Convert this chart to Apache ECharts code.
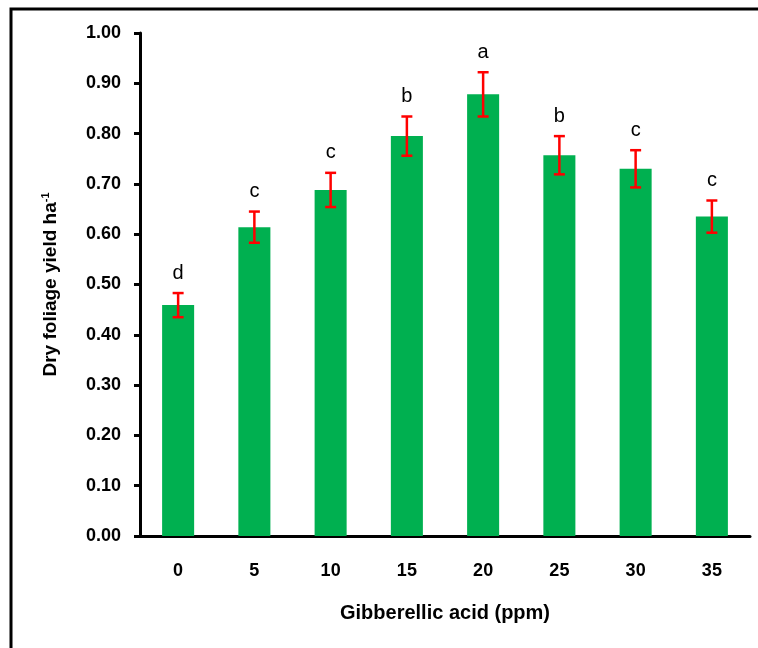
<!DOCTYPE html>
<html>
<head>
<meta charset="utf-8">
<script src="https://cdn.jsdelivr.net/npm/echarts@6/dist/echarts.min.js"></script>
<style>
  html, body { margin: 0; padding: 0; background: #fff; }
  #main { width: 758px; height: 648px; }
</style>
</head>
<body>
<div id="main"></div>
<script>
var doses = ['0', '5', '10', '15', '20', '25', '30', '35']
var yieldMean = [0.459, 0.614, 0.688, 0.795, 0.878, 0.757, 0.730, 0.635]
var yieldErr = [0.024, 0.031, 0.034, 0.039, 0.044, 0.038, 0.037, 0.032]
var letters = ['d', 'c', 'c', 'b', 'a', 'b', 'c', 'c']

var chartDom = document.getElementById('main')
var myChart = echarts.init(chartDom)
var font = 'Liberation Sans, Arial, sans-serif'

var errData = yieldMean.map(function (v, i) {
  return [i, v - yieldErr[i], v + yieldErr[i], letters[i]]
})

var option = {
  backgroundColor: '#fff',
  animation: false,
  textStyle: { fontFamily: font },
  graphic: [
    {
      type: 'rect',
      shape: { x: 11, y: 9, width: 800, height: 700 },
      style: { fill: 'none', stroke: '#000', lineWidth: 3 },
      silent: true
    }
  ],
  grid: {
    left: 140,
    right: 8,
    top: 33,
    bottom: 112
  },
  xAxis: {
    type: 'category',
    data: doses,
    name: 'Gibberellic acid (ppm)',
    nameLocation: 'middle',
    nameGap: 67,
    nameTextStyle: { color: '#000', fontSize: 20, fontWeight: 'bold' },
    axisLine: { lineStyle: { color: '#000', width: 3 } },
    axisTick: { length: 7, lineStyle: { color: '#000', width: 3 } },
    axisLabel: { color: '#000', fontSize: 18, fontWeight: 'bold', margin: 26 }
  },
  yAxis: {
    type: 'value',
    min: 0,
    max: 1,
    interval: 0.1,
    name: '{m|Dry foliage yield ha}{s|-1}',
    nameLocation: 'middle',
    nameGap: 78,
    nameRotate: 90,
    nameTextStyle: {
      rich: {
        m: { color: '#000', fontSize: 19, fontWeight: 'bold', lineHeight: 22, fontFamily: font },
        s: { color: '#000', fontSize: 11, fontWeight: 'bold', verticalAlign: 'top', lineHeight: 22, fontFamily: font }
      }
    },
    splitLine: { show: false },
    axisLine: { show: true, lineStyle: { color: '#000', width: 3 } },
    axisTick: { show: true, length: 6, lineStyle: { color: '#000', width: 3 } },
    axisLabel: {
      color: '#000',
      fontSize: 18,
      fontWeight: 'bold',
      margin: 19,
      formatter: function (v) { return v.toFixed(2) }
    }
  },
  series: [
    {
      type: 'bar',
      data: yieldMean,
      barWidth: '42%',
      itemStyle: { color: '#00b050' }
    },
    {
      type: 'custom',
      data: errData,
      z: 10,
      renderItem: function (params, api) {
        var x = api.value(0)
        var lo = api.coord([x, api.value(1)])
        var hi = api.coord([x, api.value(2)])
        var cap = 5.5
        var st = { stroke: '#ff0000', lineWidth: 2.5 }
        return {
          type: 'group',
          children: [
            { type: 'line', shape: { x1: hi[0], y1: hi[1], x2: lo[0], y2: lo[1] }, style: st },
            { type: 'line', shape: { x1: hi[0] - cap, y1: hi[1], x2: hi[0] + cap, y2: hi[1] }, style: st },
            { type: 'line', shape: { x1: lo[0] - cap, y1: lo[1], x2: lo[0] + cap, y2: lo[1] }, style: st },
            {
              type: 'text',
              style: {
                text: api.value(3),
                x: hi[0],
                y: hi[1] - 10,
                align: 'center',
                verticalAlign: 'bottom',
                fill: '#000',
                fontSize: 20,
                fontFamily: font
              }
            }
          ]
        }
      }
    }
  ]
}

myChart.setOption(option)
</script>
</body>
</html>
